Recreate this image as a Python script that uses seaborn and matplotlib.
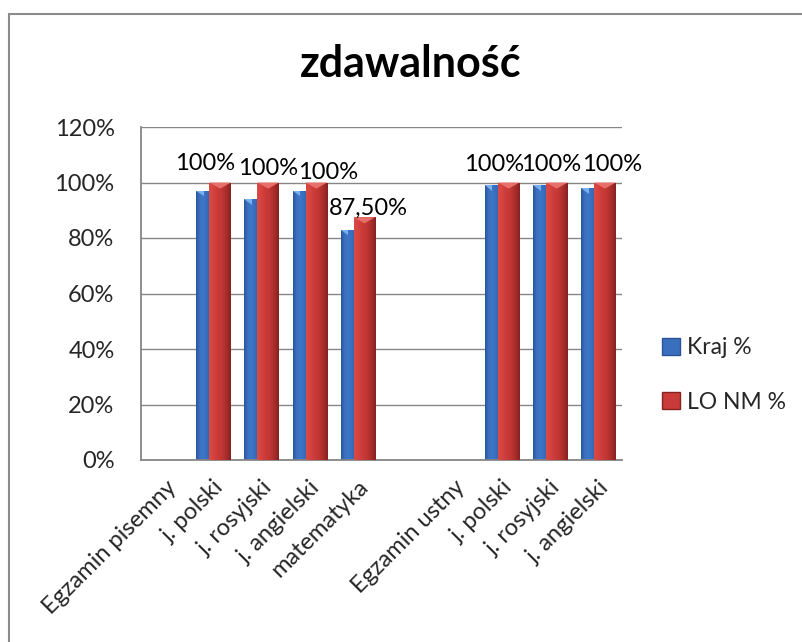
import numpy as np
import pandas as pd
import matplotlib
matplotlib.use("Agg")
import matplotlib.pyplot as plt
import seaborn as sns
from matplotlib.colors import LinearSegmentedColormap
from matplotlib.patches import Rectangle, Patch, Polygon
from matplotlib.ticker import PercentFormatter, FixedLocator

# ---- data -------------------------------------------------------------
categories = ["Egzamin pisemny", "j. polski", "j. rosyjski", "j. angielski",
              "matematyka", "", "Egzamin ustny", "j. polski", "j. rosyjski",
              "j. angielski"]
kraj = [np.nan, 0.97, 0.94, 0.97, 0.83, np.nan, np.nan, 0.99, 0.99, 0.98]
lo_nm = [np.nan, 1.00, 1.00, 1.00, 0.875, np.nan, np.nan, 1.00, 1.00, 1.00]
lo_labels = ["", "100%", "100%", "100%", "87,50%", "", "", "100%", "100%", "100%"]
series_names = ["Kraj %", "LO NM %"]
y_ticks = [0, 0.2, 0.4, 0.6, 0.8, 1.0, 1.2]

# label nudges (pixels) so neighbouring value labels do not collide
label_dx = [0, -15, 0, 12, 4, 0, 0, -15, -6, 7]
label_dy = [0, 10, 5, 1, 0, 0, 0, 9, 9, 9]

# ---- style ------------------------------------------------------------
sns.set_theme(style="white")
plt.rcParams["font.family"] = ["Lato", "DejaVu Sans"]
FS = 17
GRID = "#868686"

blue_stops = ["#2a5496", "#3a6fbf", "#3f77c8", "#3a6fbf", "#3466b2", "#2c5a9e"]
red_stops = ["#d84c48", "#d6423e", "#c93b38", "#bf3633", "#a62d2b", "#862220"]
blue_cmap = LinearSegmentedColormap.from_list("blue_cyl", blue_stops)
red_cmap = LinearSegmentedColormap.from_list("red_cyl", red_stops)

n = len(categories)
df = pd.DataFrame({
    "pos": list(range(n)) * 2,
    "value": kraj + lo_nm,
    "series": [series_names[0]] * n + [series_names[1]] * n,
})

fig = plt.figure(figsize=(8.03, 6.42), dpi=100)
ax = fig.add_axes([141 / 803, 1 - 460 / 642, (622 - 141) / 803, (460 - 127) / 642])

sns.barplot(data=df, x="pos", y="value", hue="series", order=list(range(n)),
            hue_order=series_names, width=0.7, errorbar=None, legend=False,
            ax=ax)

# shaded cylinder look: gradient images clipped to every bar
grad = np.linspace(0, 1, 256).reshape(1, -1)
for k, (cont, cmap, cap) in enumerate(zip(ax.containers, [blue_cmap, red_cmap],
                                           ["#78b2ee", "#e8706b"])):
    for bar in cont:
        h = bar.get_height()
        if not np.isfinite(h) or h == 0:
            continue
        if k == 1:
            bar.set_x(bar.get_x() - 0.08)
            bar.set_width(bar.get_width() + 0.1)
        x0, w = bar.get_x(), bar.get_width()
        bar.set_facecolor("none")
        bar.set_edgecolor("none")
        bar.set_zorder(2 + k)
        im = ax.imshow(grad, extent=[x0, x0 + w, 0, h], aspect="auto",
                       cmap=cmap, zorder=2 + k, interpolation="bilinear")
        im.set_clip_path(bar)
        if k == 0:
            tri = [(x0, h), (x0 + w * 0.45, h), (x0 + w * 0.45, h - 0.02)]
        else:
            tri = [(x0, h), (x0 + w, h), (x0 + w / 2, h - 0.022)]
        ax.add_patch(Polygon(tri, closed=True, facecolor=cap, edgecolor="none",
                             zorder=2.5 + k))

# value labels over the LO NM bars
for i in range(n):
    if not lo_labels[i]:
        continue
    ax.annotate(lo_labels[i], xy=(i + 0.145, lo_nm[i]),
                xytext=(label_dx[i] * 0.72, 2 + label_dy[i] * 0.72),
                textcoords="offset points", ha="center", va="baseline",
                fontsize=FS, color="black", zorder=6)

ax.set_xlim(-0.5, n - 0.5)
ax.set_ylim(0, 1.2)
ax.yaxis.set_major_locator(FixedLocator(y_ticks))
ax.yaxis.set_major_formatter(PercentFormatter(1.0, decimals=0))
ax.set_xticks(range(n))
ax.set_xticklabels(categories, rotation=45, ha="right", rotation_mode="anchor",
                   fontsize=FS)
ax.tick_params(axis="y", labelsize=FS, length=0, pad=19)
ax.tick_params(axis="x", length=0, pad=12)
ax.set_xlabel("")
ax.set_ylabel("")
ax.yaxis.grid(True, color=GRID, linewidth=1.0)
ax.set_axisbelow(True)
for s in ["top", "right"]:
    ax.spines[s].set_visible(False)
for s in ["left", "bottom"]:
    ax.spines[s].set_color(GRID)
    ax.spines[s].set_linewidth(1.3)

# legend
handles = [Patch(facecolor="#3a6fbf", edgecolor="#2a5496"),
           Patch(facecolor="#c93b38", edgecolor="#862220")]
fig.legend(handles, series_names, loc="center left",
           bbox_to_anchor=(662 / 803, 1 - 375 / 642), frameon=False,
           borderpad=0, borderaxespad=0,
           fontsize=16.5, handlelength=0.8, handleheight=0.8, handletextpad=0.3,
           labelspacing=1.45)

# title
fig.text(411 / 803, 1 - 77 / 642, "zdawalność", ha="center", va="baseline",
         fontsize=31, fontweight="bold", color="black")

# chart frame
fig.patches.append(Rectangle((9.5 / 803, -0.2), 1.2, 1 - 14 / 642 + 0.2,
                             transform=fig.transFigure, fill=False,
                             edgecolor="#8c8c8c", linewidth=1.5))

fig.savefig("out.png", dpi=100)
